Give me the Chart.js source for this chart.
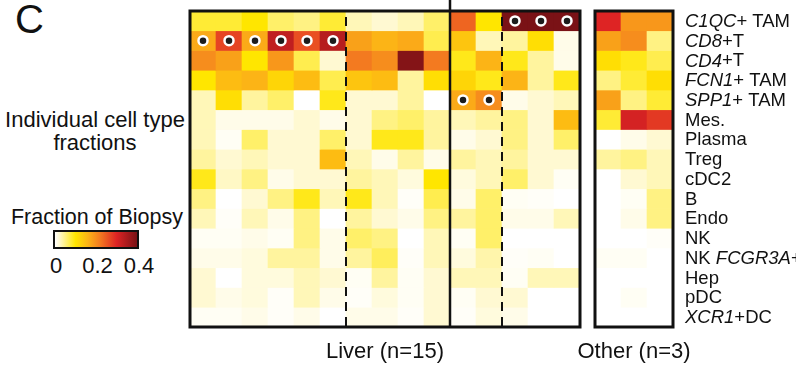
<!DOCTYPE html>
<html>
<head>
<meta charset="utf-8">
<script src="https://cdn.jsdelivr.net/npm/chart.js@4.4.0/dist/chart.umd.min.js"></script>
<style>
  body { margin: 0; width: 796px; height: 367px; background: #fff; position: relative; overflow: hidden;
         font-family: "Liberation Sans", Arial, sans-serif; color: #111; }
  .abs { position: absolute; white-space: nowrap; }
  #wrapLiver { left: 180px; top: 0; width: 410px; height: 367px; }
  #wrapOther { left: 585px; top: 0; width: 211px; height: 367px; }
</style>
</head>
<body>
<div class="abs" style="left:15px;top:-3px;font-size:40px;">C</div>
<div class="abs" style="left:0;width:190px;top:108px;font-size:22px;line-height:23px;text-align:center;">Individual cell type<br>fractions</div>
<div class="abs" style="left:0;width:194px;top:205px;font-size:21.5px;text-align:center;">Fraction of Biopsy</div>
<div class="abs" id="cbar" style="left:53px;top:230px;width:82px;height:15px;border:2px solid #111;"></div>
<div id="cbarTicks"></div>

<div class="abs" id="wrapLiver"><canvas id="liver"></canvas></div>
<div class="abs" id="wrapOther"><canvas id="other"></canvas></div>
<div class="abs" style="left:190px;width:390px;top:338px;font-size:22px;text-align:center;">Liver (n=15)</div>
<div class="abs" style="left:564px;width:140px;top:338px;font-size:22px;text-align:center;">Other (n=3)</div>

<script>
// rows (cell types), *...* = italic gene name
var rowLabels = ['*C1QC*+ TAM', '*CD8*+T', '*CD4*+T', '*FCN1*+ TAM', '*SPP1*+ TAM', 'Mes.', 'Plasma', 'Treg',
                 'cDC2', 'B', 'Endo', 'NK', 'NK *FCGR3A*+', 'Hep', 'pDC', '*XCR1*+DC'];

var liverCols = ['L1', 'L2', 'L3', 'L4', 'L5', 'L6', 'L7', 'L8', 'L9', 'L10', 'L11', 'L12', 'L13', 'L14', 'L15'];
var otherCols = ['O1', 'O2', 'O3'];

// fraction of biopsy, one array per row
var liverValues = [
  [0.08, 0.08, 0.10, 0.06, 0.05, 0.08, 0.03, 0.02, 0.03, 0.06, 0.24, 0.10, 0.40, 0.40, 0.40],
  [0.17, 0.27, 0.17, 0.33, 0.26, 0.34, 0.18, 0.16, 0.17, 0.07, 0.14, 0.03, 0.04, 0.11, 0.01],
  [0.20, 0.18, 0.10, 0.19, 0.07, 0.02, 0.22, 0.20, 0.39, 0.22, 0.09, 0.16, 0.09, 0.04, 0.01],
  [0.10, 0.15, 0.16, 0.12, 0.15, 0.07, 0.14, 0.15, 0.04, 0.11, 0.12, 0.09, 0.16, 0.04, 0.09],
  [0.03, 0.11, 0.04, 0.06, 0.00, 0.09, 0.02, 0.02, 0.04, 0.00, 0.17, 0.20, 0.01, 0.02, 0.03],
  [0.03, 0.01, 0.01, 0.01, 0.02, 0.01, 0.02, 0.05, 0.06, 0.04, 0.03, 0.04, 0.05, 0.02, 0.15],
  [0.03, 0.005, 0.06, 0.02, 0.02, 0.06, 0.02, 0.09, 0.09, 0.04, 0.01, 0.02, 0.05, 0.02, 0.06],
  [0.04, 0.02, 0.03, 0.02, 0.02, 0.15, 0.03, 0.01, 0.04, 0.01, 0.04, 0.03, 0.04, 0.02, 0.02],
  [0.09, 0.025, 0.05, 0.01, 0.02, 0.02, 0.04, 0.03, 0.015, 0.10, 0.015, 0.03, 0.06, 0.02, 0.005],
  [0.05, 0.00, 0.02, 0.05, 0.09, 0.03, 0.09, 0.03, 0.003, 0.07, 0.01, 0.06, 0.005, 0.003, 0.00],
  [0.03, 0.003, 0.03, 0.01, 0.05, 0.00, 0.04, 0.02, 0.01, 0.05, 0.04, 0.06, 0.01, 0.01, 0.03],
  [0.005, 0.005, 0.01, 0.005, 0.05, 0.01, 0.06, 0.05, 0.00, 0.03, 0.005, 0.06, 0.00, 0.00, 0.00],
  [0.01, 0.01, 0.015, 0.04, 0.04, 0.01, 0.04, 0.065, 0.003, 0.03, 0.015, 0.035, 0.003, 0.005, 0.00],
  [0.02, 0.00, 0.015, 0.015, 0.03, 0.02, 0.005, 0.04, 0.005, 0.02, 0.03, 0.03, 0.005, 0.03, 0.03],
  [0.02, 0.01, 0.015, 0.003, 0.03, 0.01, 0.003, 0.015, 0.005, 0.02, 0.005, 0.02, 0.02, 0.00, 0.00],
  [0.005, 0.005, 0.01, 0.003, 0.01, 0.00, 0.01, 0.01, 0.003, 0.02, 0.003, 0.015, 0.01, 0.00, 0.00]
];

var otherValues = [
  [0.30, 0.19, 0.19],
  [0.18, 0.20, 0.05],
  [0.11, 0.09, 0.07],
  [0.05, 0.08, 0.11],
  [0.18, 0.05, 0.08],
  [0.08, 0.31, 0.28],
  [0.00, 0.01, 0.02],
  [0.04, 0.05, 0.03],
  [0.00, 0.02, 0.03],
  [0.00, 0.005, 0.05],
  [0.00, 0.01, 0.05],
  [0.00, 0.00, 0.003],
  [0.005, 0.005, 0.00],
  [0.00, 0.00, 0.00],
  [0.00, 0.005, 0.00],
  [0.00, 0.00, 0.00]
];

// marked cells [row, col]
var liverMarks = [[0, 12], [0, 13], [0, 14], [1, 0], [1, 1], [1, 2], [1, 3], [1, 4], [1, 5], [4, 10], [4, 11]];
var otherMarks = [];

var cbarTicks = [0, 0.2, 0.4];

// colour scale, 0 -> 0.4
var colorStops = [
  [0.00, [255, 255, 255]],
  [0.02, [255, 249, 210]],
  [0.10, [255, 230, 0]],
  [0.16, [252, 180, 22]],
  [0.22, [243, 122, 32]],
  [0.30, [222, 36, 36]],
  [0.40, [122, 18, 22]]
];

function heatColor(v) {
  if (v <= colorStops[0][0]) return 'rgb(' + colorStops[0][1].join(',') + ')';
  for (var i = 1; i < colorStops.length; i++) {
    var a = colorStops[i - 1], b = colorStops[i];
    if (v <= b[0]) {
      var t = (v - a[0]) / (b[0] - a[0]);
      var c = a[1].map(function (ch, k) { return Math.round(ch + (b[1][k] - ch) * t); });
      return 'rgb(' + c.join(',') + ')';
    }
  }
  return 'rgb(' + colorStops[colorStops.length - 1][1].join(',') + ')';
}

// colour bar
var grad = colorStops.map(function (s) { return heatColor(s[0]) + ' ' + (s[0] / 0.4 * 100) + '%'; });
document.getElementById('cbar').style.background = 'linear-gradient(to right, ' + grad.join(', ') + ')';
cbarTicks.forEach(function (t) {
  var d = document.createElement('div');
  d.className = 'abs';
  d.style.cssText = 'top:253px;font-size:22px;width:40px;text-align:center;left:' + (56 + t / 0.4 * 83 - 20) + 'px;';
  d.textContent = String(t);
  document.getElementById('cbarTicks').appendChild(d);
});

// frame, separators and row labels
var framePlugin = {
  id: 'frame',
  afterDatasetsDraw: function (chart, args, opts) {
    var ctx = chart.ctx, a = chart.chartArea, x = chart.scales.x;
    ctx.save();
    ctx.strokeStyle = '#111';
    function boundary(i) { return (x.getPixelForValue(i - 1) + x.getPixelForValue(i)) / 2; }
    (opts.dashed || []).forEach(function (i) {
      ctx.lineWidth = 2;
      ctx.setLineDash([9, 6]);
      ctx.beginPath();
      ctx.moveTo(boundary(i), a.top + 6);
      ctx.lineTo(boundary(i), a.bottom);
      ctx.stroke();
    });
    ctx.setLineDash([]);
    (opts.solid || []).forEach(function (i) {
      ctx.lineWidth = 2.5;
      ctx.beginPath();
      ctx.moveTo(boundary(i), 0);
      ctx.lineTo(boundary(i), a.bottom);
      ctx.stroke();
    });
    ctx.lineWidth = 3;
    ctx.strokeRect(a.left, a.top, a.right - a.left, a.bottom - a.top);
    ctx.restore();
  },
  afterDraw: function (chart, args, opts) {
    if (!opts.labels) return;
    var ctx = chart.ctx, a = chart.chartArea, y = chart.scales.y;
    ctx.save();
    ctx.fillStyle = '#111';
    ctx.textBaseline = 'middle';
    opts.labels.forEach(function (lab, r) {
      var px = a.right + 12, py = y.getPixelForValue(r + 0.5) + 1;
      lab.split('*').forEach(function (part, k) {
        if (!part) return;
        ctx.font = (k % 2 ? 'italic ' : '') + '18.5px "Liberation Sans", Arial, sans-serif';
        ctx.fillText(part, px, py);
        px += ctx.measureText(part).width;
      });
    });
    ctx.restore();
  }
};

function makeHeatmap(id, cols, values, marks, padding, frameOpts) {
  var datasets = values.map(function (row, r) {
    return {
      type: 'bar',
      data: cols.map(function () { return [r, r + 1]; }),
      backgroundColor: row.map(heatColor),
      borderWidth: 0,
      grouped: false,
      barPercentage: 1,
      categoryPercentage: 1,
      yAxisID: 'y'
    };
  });
  datasets.push({
    type: 'line',
    order: -1,
    data: marks.map(function (m) { return { x: cols[m[1]], y: m[0] + 0.5 }; }),
    showLine: false,
    pointRadius: 4.5,
    pointBackgroundColor: '#1c1c1c',
    pointBorderColor: '#fff',
    pointBorderWidth: 2.5,
    yAxisID: 'y2'
  });
  return new Chart(document.getElementById(id), {
    type: 'bar',
    data: { labels: cols, datasets: datasets },
    options: {
      responsive: true,
      maintainAspectRatio: false,
      animation: false,
      layout: { padding: padding },
      plugins: { legend: { display: false }, tooltip: { enabled: false }, frame: frameOpts },
      scales: {
        x: { type: 'category', display: false, offset: true },
        y: { display: false, min: 0, max: 16, reverse: true },
        y2: { display: false, min: 0, max: 16, reverse: true }
      }
    },
    plugins: [framePlugin]
  });
}

makeHeatmap('liver', liverCols, liverValues, liverMarks,
  { left: 10, right: 10, top: 11, bottom: 40 },
  { dashed: [6, 12], solid: [10] });
makeHeatmap('other', otherCols, otherValues, otherMarks,
  { left: 10, right: 123, top: 11, bottom: 40 },
  { labels: rowLabels });
</script>
</body>
</html>
